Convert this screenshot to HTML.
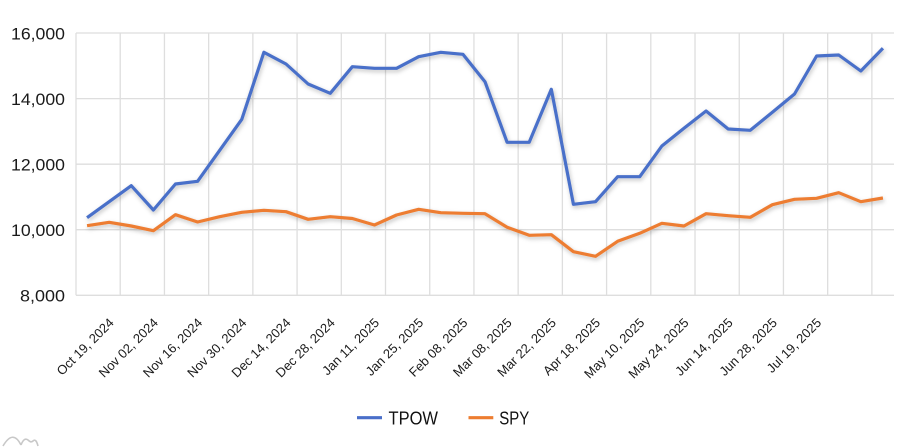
<!DOCTYPE html>
<html><head><meta charset="utf-8"><style>
html,body{margin:0;padding:0;background:#fff;}
svg{display:block;font-family:"Liberation Sans",sans-serif;}
</style></head><body>
<svg width="909" height="447" viewBox="0 0 909 447" xmlns="http://www.w3.org/2000/svg">
<defs>
<filter id="sh" x="-5%" y="-20%" width="110%" height="140%">
<feDropShadow dx="1" dy="2" stdDeviation="2" flood-color="#000" flood-opacity="0.25"/>
</filter>
</defs>
<rect width="909" height="447" fill="#fff"/>
<g stroke="#dedede" stroke-width="1.3" fill="none">
<line x1="76" y1="33" x2="894" y2="33"/>
<line x1="76" y1="98.6" x2="894" y2="98.6"/>
<line x1="76" y1="164.2" x2="894" y2="164.2"/>
<line x1="76" y1="229.7" x2="894" y2="229.7"/>
<line x1="76" y1="295.3" x2="894" y2="295.3"/>
<line x1="76" y1="33" x2="76" y2="295.3"/>
<line x1="120.22" y1="33" x2="120.22" y2="295.3"/>
<line x1="164.43" y1="33" x2="164.43" y2="295.3"/>
<line x1="208.65" y1="33" x2="208.65" y2="295.3"/>
<line x1="252.86" y1="33" x2="252.86" y2="295.3"/>
<line x1="297.08" y1="33" x2="297.08" y2="295.3"/>
<line x1="341.3" y1="33" x2="341.3" y2="295.3"/>
<line x1="385.51" y1="33" x2="385.51" y2="295.3"/>
<line x1="429.73" y1="33" x2="429.73" y2="295.3"/>
<line x1="473.94" y1="33" x2="473.94" y2="295.3"/>
<line x1="518.16" y1="33" x2="518.16" y2="295.3"/>
<line x1="562.38" y1="33" x2="562.38" y2="295.3"/>
<line x1="606.59" y1="33" x2="606.59" y2="295.3"/>
<line x1="650.81" y1="33" x2="650.81" y2="295.3"/>
<line x1="695.02" y1="33" x2="695.02" y2="295.3"/>
<line x1="739.24" y1="33" x2="739.24" y2="295.3"/>
<line x1="783.46" y1="33" x2="783.46" y2="295.3"/>
<line x1="827.67" y1="33" x2="827.67" y2="295.3"/>
<line x1="871.89" y1="33" x2="871.89" y2="295.3"/>
</g>
<g font-size="17" fill="#1a1a1a" text-anchor="end">
<text x="65" y="39.3" textLength="54" lengthAdjust="spacingAndGlyphs">16,000</text>
<text x="65" y="104.9" textLength="54" lengthAdjust="spacingAndGlyphs">14,000</text>
<text x="65" y="170.5" textLength="54" lengthAdjust="spacingAndGlyphs">12,000</text>
<text x="65" y="236" textLength="54" lengthAdjust="spacingAndGlyphs">10,000</text>
<text x="65" y="301.6" textLength="45" lengthAdjust="spacingAndGlyphs">8,000</text>
</g>
<g font-size="13" fill="#1a1a1a" text-anchor="end">
<text transform="translate(114.66,323.5) rotate(-45)">Oct 19, 2024</text>
<text transform="translate(158.87,323.5) rotate(-45)">Nov 02, 2024</text>
<text transform="translate(203.09,323.5) rotate(-45)">Nov 16, 2024</text>
<text transform="translate(247.31,323.5) rotate(-45)">Nov 30, 2024</text>
<text transform="translate(291.52,323.5) rotate(-45)">Dec 14, 2024</text>
<text transform="translate(335.74,323.5) rotate(-45)">Dec 28, 2024</text>
<text transform="translate(379.95,323.5) rotate(-45)">Jan 11, 2025</text>
<text transform="translate(424.17,323.5) rotate(-45)">Jan 25, 2025</text>
<text transform="translate(468.39,323.5) rotate(-45)">Feb 08, 2025</text>
<text transform="translate(512.6,323.5) rotate(-45)">Mar 08, 2025</text>
<text transform="translate(556.82,323.5) rotate(-45)">Mar 22, 2025</text>
<text transform="translate(601.03,323.5) rotate(-45)">Apr 18, 2025</text>
<text transform="translate(645.25,323.5) rotate(-45)">May 10, 2025</text>
<text transform="translate(689.47,323.5) rotate(-45)">May 24, 2025</text>
<text transform="translate(733.68,323.5) rotate(-45)">Jun 14, 2025</text>
<text transform="translate(777.9,323.5) rotate(-45)">Jun 28, 2025</text>
<text transform="translate(822.11,323.5) rotate(-45)">Jul 19, 2025</text>
</g>
<polyline filter="url(#sh)" fill="none" stroke="#ED7D31" stroke-width="3.2" stroke-linejoin="round" points="87.05,225.7 109.16,222.3 131.27,226 153.37,230.7 175.48,214.7 197.59,222 219.7,216.7 241.81,212.3 263.91,210.3 286.02,211.7 308.13,219.3 330.24,216.7 352.35,218.5 374.45,225 396.56,215 418.67,209.3 440.78,212.7 462.89,213.3 484.99,213.7 507.1,227.3 529.21,235.3 551.32,234.7 573.43,251.7 595.53,256.3 617.64,241.3 639.75,233.3 661.86,223.3 683.97,226 706.07,213.7 728.18,215.7 750.29,217.3 772.4,204.7 794.51,199.3 816.61,198.3 838.72,192.7 860.83,201.7 882.94,198"/>
<polyline filter="url(#sh)" fill="none" stroke="#4A6FC9" stroke-width="3.2" stroke-linejoin="round" points="87.05,217.7 109.16,201.7 131.27,185.7 153.37,210 175.48,184 197.59,181.3 219.7,150.3 241.81,119.3 263.91,52.3 286.02,64 308.13,84 330.24,93.3 352.35,66.7 374.45,68.3 396.56,68.3 418.67,56.7 440.78,52.3 462.89,54.3 484.99,81.7 507.1,142.3 529.21,142.3 551.32,89.3 573.43,204.3 595.53,201.7 617.64,176.7 639.75,176.7 661.86,146 683.97,128.3 706.07,111 728.18,129 750.29,130.3 772.4,112.3 794.51,94 816.61,56 838.72,55 860.83,71 882.94,48.3"/>
<line x1="357" y1="417.7" x2="382" y2="417.7" stroke="#4A6FC9" stroke-width="3.2"/>
<text x="388.5" y="424.3" font-size="18" fill="#111" textLength="49.5" lengthAdjust="spacingAndGlyphs">TPOW</text>
<line x1="468.5" y1="417.7" x2="493.3" y2="417.7" stroke="#ED7D31" stroke-width="3.2"/>
<text x="499.3" y="424.3" font-size="18" fill="#111" textLength="30" lengthAdjust="spacingAndGlyphs">SPY</text>
<path d="M3,446 Q13,429 21,445 M21,445 Q24,437 28,440 Q31,443 33,441 Q36,438 38,446" fill="none" stroke="#c8c8c8" stroke-width="1.6"/>
</svg>
</body></html>
